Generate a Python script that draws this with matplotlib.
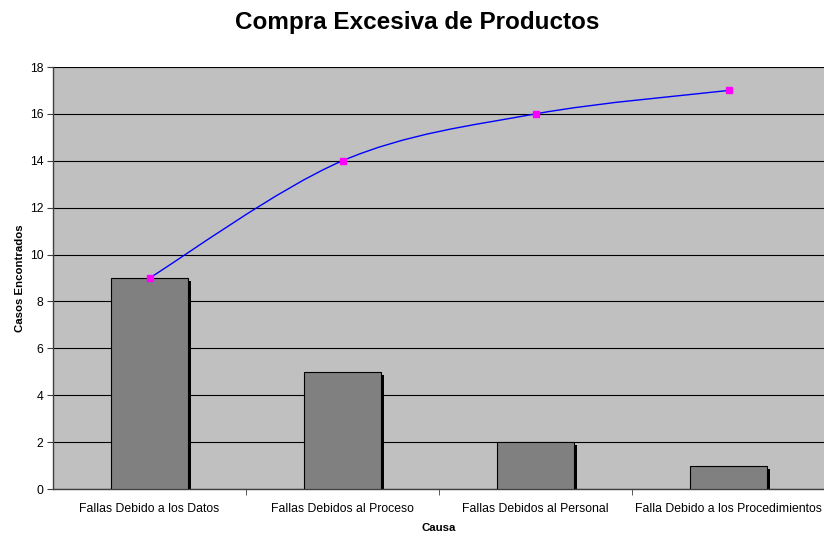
import matplotlib
matplotlib.use("Agg")
import matplotlib.pyplot as plt
import matplotlib.transforms as mtransforms
from matplotlib.path import Path
from matplotlib.patches import PathPatch
import numpy as np

plt.rcParams['font.family'] = ['Liberation Sans', 'DejaVu Sans']

categories = ["Fallas Debido a los Datos", "Fallas Debidos al Proceso",
              "Fallas Debidos al Personal", "Falla Debido a los Procedimientos"]
casos = [9, 5, 2, 1]
acumulado = [9, 14, 16, 17]
yticks = [0, 2, 4, 6, 8, 10, 12, 14, 16, 18]

fig = plt.figure(figsize=(8.24, 5.36), dpi=100)
ax = fig.add_axes([53/824, 47/536, 772/824, 422/536])
ax.set_facecolor('#C0C0C0')

x = np.arange(len(categories))
width = 0.4
shadow = ax.transData + mtransforms.ScaledTranslation(3/100, -3/100, fig.dpi_scale_trans)
ax.bar(x, casos, width=width, color='black', transform=shadow, zorder=2, linewidth=0)
ax.bar(x, casos, width=width, color='#808080', edgecolor='black', linewidth=0.8, zorder=3)

# smooth line (Catmull-Rom through data points, as Excel smoothing)
pts = np.column_stack([x, acumulado]).astype(float)
verts = [tuple(pts[0])]
codes = [Path.MOVETO]
n = len(pts)
for i in range(n - 1):
    p0 = pts[i - 1] if i > 0 else pts[i]
    p1 = pts[i]
    p2 = pts[i + 1]
    p3 = pts[i + 2] if i + 2 < n else pts[i + 1]
    c1 = p1 + (p2 - p0) / 6
    c2 = p2 - (p3 - p1) / 6
    verts += [tuple(c1), tuple(c2), tuple(p2)]
    codes += [Path.CURVE4] * 3
ax.add_patch(PathPatch(Path(verts, codes), facecolor='none', edgecolor='#0000FF', lw=1.0, zorder=4))
ax.plot(x, acumulado, linestyle='none', marker='s', markersize=5, color='#FF00FF', zorder=5)

ax.set_xlim(-0.5, len(categories) - 0.5)
ax.set_ylim(0, 18)
ax.set_yticks(yticks)
ax.set_yticklabels([str(t) for t in yticks], fontsize=8.8)
ax.yaxis.grid(True, color='black', linewidth=0.8)
ax.set_axisbelow(True)
ax.set_xticks(x)
ax.set_xticklabels(categories, fontsize=8.8)
ax.set_xticks(np.arange(0.5, len(categories) - 1, 1), minor=True)
ax.tick_params(axis='x', which='major', length=0, pad=10)
ax.tick_params(axis='x', which='minor', length=4, direction='out', color='#404040')
ax.tick_params(axis='y', length=4, direction='out', color='#404040', pad=3)
for s in ['top', 'right']:
    ax.spines[s].set_visible(False)
for s in ['left', 'bottom']:
    ax.spines[s].set_color('#404040')
    ax.spines[s].set_linewidth(1.0)

ax.set_xlabel('Causa', fontsize=8.2, fontweight='bold', labelpad=6)
ax.set_ylabel('Casos Encontrados', fontsize=8.2, fontweight='bold', labelpad=3)
fig.text(417/824, 1 - 22/536, 'Compra Excesiva de Productos', fontsize=17.5,
         fontweight='bold', ha='center', va='center')

fig.savefig('out.png', dpi=100)
